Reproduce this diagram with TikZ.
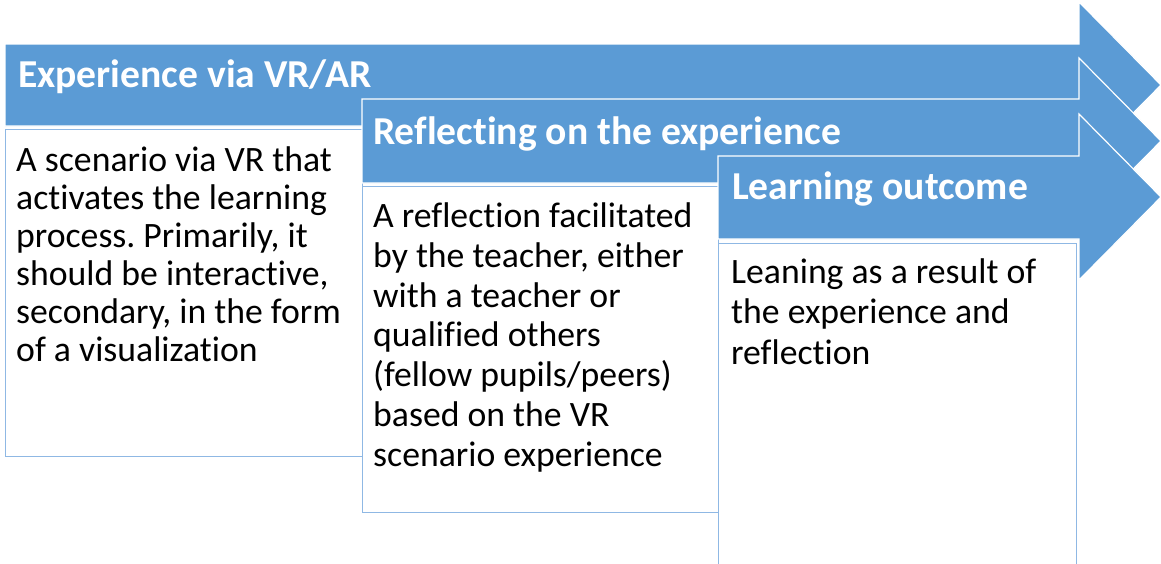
\documentclass[tikz,border=0pt]{standalone}
\usepackage{fontspec}
\setmainfont{Carlito}[Ligatures=NoCommon]
\frenchspacing
\definecolor{flow}{HTML}{5B9BD5}
\definecolor{flowedge}{HTML}{8FB8E4}
\tikzset{
  stage/.style={fill=flow, draw=white, line width=1.2pt, line join=miter},   % arrow band
  notebox/.style={fill=white, draw=flowedge, line width=1.3pt, anchor=north west,
                  minimum width=357, inner sep=0pt},
  stagetitle/.style={anchor=base west, inner sep=0pt, text=white,
                     font=\fontsize{39.6}{44}\selectfont\bfseries},
  notetext/.style={anchor=north west, inner sep=0pt, align=left,
                   font=\fontsize{35.7}{#1}\selectfont},
  notetext/.default=39.8,
}

\begin{document}
\begin{tikzpicture}[x=1pt,y=-1pt]
  \useasboundingbox (0,0) rectangle (1161,563);
  % first stage
  \path[stage] (5,44) -- (1079,44) -- (1079,2) -- (1161,85) -- (1079,168)
               -- (1079,126) -- (5,126) -- cycle;
  \node[stagetitle] (t1) at (18,87) {Experience via VR/AR};
  \node[notebox, minimum height=327] (b1) at (5,129) {};
  \node[notetext=38] (n1) at (16,147) {A scenario via VR that\\activates the learning\\
    process. Primarily, it\\should be interactive,\\secondary, in the form\\of a visualization};
  % second stage
  \path[stage] (362,99) -- (1079,99) -- (1079,58) -- (1161,141) -- (1079,224)
               -- (1079,183) -- (362,183) -- cycle;
  \node[stagetitle] (t2) at (373,144) {Reflecting on the experience};
  \node[notebox, minimum width=356, minimum height=326] (b2) at (362,186) {};
  \node[notetext] (n2) at (373,202.5) {A reflection facilitated\\by the teacher, either\\
    with a teacher or\\qualified others\\(fellow pupils/peers)\\based on the VR\\scenario experience};
  % third stage
  \path[stage] (718,156) -- (1079,156) -- (1079,114) -- (1161,197) -- (1079,280)
               -- (1079,239) -- (718,239) -- cycle;
  \node[stagetitle] (t3) at (732,199) {Learning outcome};
  \node[notebox, minimum width=358, minimum height=330] (b3) at (718,243) {};
  \node[notetext=40.5] (n3) at (731,258.5) {Leaning as a result of\\the experience and\\reflection};
\end{tikzpicture}
\end{document}
